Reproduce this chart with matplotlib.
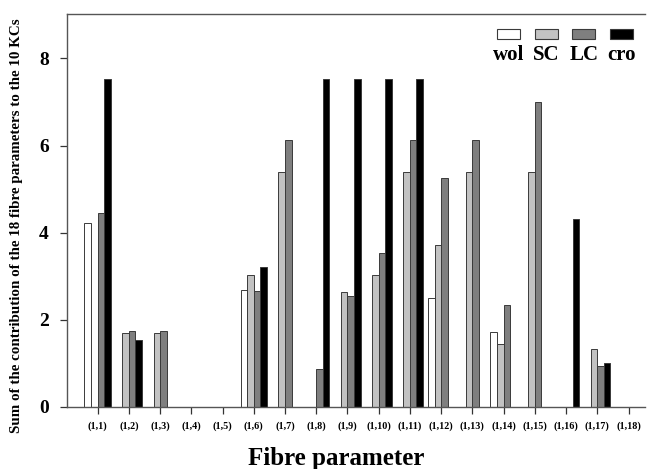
import matplotlib
matplotlib.use("Agg")
import matplotlib.pyplot as plt
from matplotlib.patches import Rectangle
import numpy as np

plt.rcParams['font.family'] = ['Liberation Serif', 'DejaVu Serif']
plt.rcParams['font.weight'] = 'bold'

categories = ["(1,%d)" % i for i in range(1, 19)]
series_names = ["wol", "SC", "LC", "cro"]
wol = [4.23, 0, 0, 0, 0, 2.67, 0, 0, 0, 0, 0, 2.50, 0, 1.71, 0, 0, 0, 0]
SC = [0, 1.69, 1.69, 0, 0, 3.02, 5.40, 0, 2.63, 3.02, 5.40, 3.72, 5.40, 1.43, 5.40, 0, 1.33, 0]
LC = [4.45, 1.73, 1.73, 0, 0, 2.66, 6.12, 0.87, 2.55, 3.52, 6.12, 5.25, 6.12, 2.33, 7.00, 0, 0.93, 0]
cro = [7.52, 1.53, 0, 0, 0, 3.20, 0, 7.52, 7.52, 7.52, 7.52, 0, 0, 0, 0, 4.32, 1.00, 0]
colors = ["#ffffff", "#c2c2c2", "#7f7f7f", "#000000"]
yticks = [0, 2, 4, 6, 8]

fig = plt.figure(figsize=6.48 * np.array([1, 469 / 648]), dpi=100)
ax = fig.add_axes([0.1034, 0.1328, 0.8916, 0.8372])

x = np.arange(1, len(categories) + 1)
w = 0.21
for k, (vals, c) in enumerate(zip([wol, SC, LC, cro], colors)):
    v = np.array(vals)
    mask = v > 0
    ax.bar(x[mask] + (k - 1.5) * w, v[mask], width=w, color=c,
           edgecolor="#3a3a3a", linewidth=0.7, zorder=2)

ax.set_xlim(0.02, 18.52)
ax.set_ylim(0, 9.02)
ax.set_xticks(x)
ax.set_xticklabels(categories, fontsize=7.3, fontweight='bold')
ax.set_yticks(yticks)
ax.set_yticklabels([str(t) for t in yticks], fontsize=14, fontweight='bold')
ax.tick_params(axis='both', direction='out', length=5, width=0.9, color="#333333")
ax.tick_params(axis='x', pad=5.5)
ax.tick_params(axis='y', pad=8)
for s in ['left', 'bottom', 'top']:
    ax.spines[s].set_color("#555555")
    ax.spines[s].set_linewidth(1.0)
ax.spines['right'].set_visible(False)

ax.set_ylabel("Sum of the contribution of the 18 fibre parameters to the 10 KCs",
              fontsize=10.8, fontweight='bold')
ax.yaxis.set_label_coords(-0.076, 0.46)

fig.text(336 / 648, 1 - 465 / 469, "Fibre parameter", ha='center', va='baseline',
         fontsize=18, fontweight='bold')

# legend: patches above labels
pw, ph = 23 / 648, 10 / 469
for name, c, xc in zip(series_names, colors, [508.3, 546.2, 583.7, 621.7]):
    xf = xc / 648
    fig.patches.append(Rectangle((xf - pw / 2, 1 - 39.3 / 469), pw, ph,
                                 transform=fig.transFigure, facecolor=c,
                                 edgecolor="#3a3a3a", linewidth=0.8))
    fig.text(xf, 1 - 59.5 / 469, name, ha='center', va='baseline',
             fontsize=15, fontweight='bold')

fig.savefig("out.png", dpi=100)
